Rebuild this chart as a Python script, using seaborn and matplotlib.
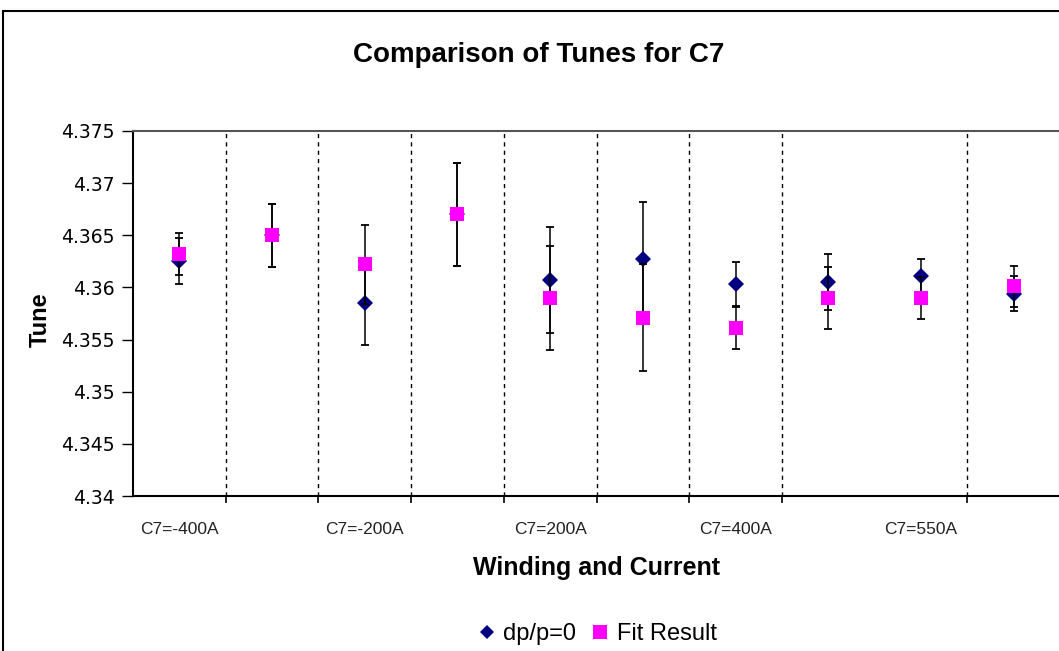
import numpy as np
import pandas as pd
import matplotlib
matplotlib.use("Agg")
import matplotlib.pyplot as plt
import seaborn as sns
from matplotlib.patches import Rectangle
from matplotlib.lines import Line2D

# ---- data ----
positions = list(range(10))
label_positions = [0, 2, 4, 6, 8]
tick_labels = ["C7=-400A", "C7=-200A", "C7=200A", "C7=400A", "C7=550A"]
divider_positions = [0.5, 1.5, 2.5, 3.5, 4.5, 5.5, 6.5, 8.5]

dp_vals = [4.3625, 4.3650, 4.3585, 4.3670, 4.3607, 4.3627, 4.3603, 4.3605, 4.3611, 4.3594]
dp_errs = [0.0022, 0.0030, 0.0040, 0.0049, 0.0051, 0.0055, 0.0021, 0.0027, 0.0016, 0.0017]
fit_vals = [4.3632, 4.3650, 4.3622, 4.3670, 4.3590, 4.3571, 4.3561, 4.3590, 4.3590, 4.3601]
fit_errs = [0.0020, 0.0030, 0.0038, 0.0049, 0.0050, 0.0051, 0.0020, 0.0030, 0.0020, 0.0020]

y_ticks = [4.34, 4.345, 4.35, 4.355, 4.36, 4.365, 4.37, 4.375]
y_tick_labels = ["4.34", "4.345", "4.35", "4.355", "4.36", "4.365", "4.37", "4.375"]

series_names = ["dp/p=0", "Fit Result"]
colors = ["#000080", "#FF00FF"]

df = pd.DataFrame({
    "pos": positions * 2,
    "tune": dp_vals + fit_vals,
    "err": dp_errs + fit_errs,
    "series": [series_names[0]] * 10 + [series_names[1]] * 10,
})

sns.set_theme(style="white")
plt.rcParams["font.family"] = ["Liberation Sans", "DejaVu Sans"]
plt.rcParams["text.color"] = "black"
plt.rcParams["axes.labelcolor"] = "black"
plt.rcParams["xtick.color"] = "black"
plt.rcParams["ytick.color"] = "black"

W, H = 1059, 651
fig = plt.figure(figsize=(W / 100, H / 100), dpi=100)
ax = fig.add_axes([133 / W, 1 - 496 / H, 927 / W, 365 / H])

# outer chart border
fig.patches.append(Rectangle((3 / W, -0.2), 2.0, 1.2 - 10.5 / H, transform=fig.transFigure,
                             fill=False, edgecolor="black", linewidth=1.5, zorder=0))

# dashed dividers
for xd in divider_positions:
    ax.axvline(xd, color="black", linestyle=(0, (3, 3)), linewidth=1.0, zorder=1)

markers = {"dp/p=0": "D", "Fit Result": "s"}
sizes = {"dp/p=0": 8.6, "Fit Result": 10}
for i, name in enumerate(series_names):
    sub = df[df["series"] == name]
    ax.errorbar(sub["pos"], sub["tune"], yerr=sub["err"], fmt="none", ecolor="black",
                elinewidth=1.1, capsize=3.2, capthick=1.3, zorder=2 + 2 * i)
    sns.lineplot(data=sub, x="pos", y="tune", ax=ax, color=colors[i], marker=markers[name],
                 markersize=sizes[name], markeredgewidth=0, linestyle="none",
                 legend=False, zorder=3 + 2 * i, estimator=None, errorbar=None)

ax.set_xlim(-0.5, 9.5)
ax.set_ylim(4.34, 4.375)
ax.set_yticks(y_ticks)
ax.set_yticklabels(y_tick_labels, fontsize=13.5, family="DejaVu Sans")
ax.set_xticks(label_positions)
ax.set_xticklabels(tick_labels, fontsize=12.5, family=["Liberation Sans Narrow", "Liberation Sans"])
ax.set_xticks(divider_positions, minor=True)
ax.tick_params(axis="x", which="major", length=0, pad=19, colors="#222222")
ax.tick_params(axis="x", which="minor", length=5, width=1.2, direction="out", color="black", bottom=True)
ax.tick_params(axis="y", which="major", length=8, width=1.0, direction="out", color="black",
               left=True, pad=5)

for s in ["left", "bottom"]:
    ax.spines[s].set_color("black")
    ax.spines[s].set_linewidth(1.5)
for s in ["top", "right"]:
    ax.spines[s].set_color("#555555")
    ax.spines[s].set_linewidth(1.5)
ax.grid(False)

ax.set_xlabel("Winding and Current", fontsize=18, fontweight="bold")
ax.xaxis.label.set_va("center")
ax.xaxis.set_label_coords(0.5, (496 - 568) / 365)
ax.set_ylabel("Tune", fontsize=17, fontweight="bold")
ax.yaxis.label.set_va("center")
ax.yaxis.set_label_coords((40 - 133) / 927, (496 - 320) / 365)

fig.text(539 / W, 1 - 55 / H, "Comparison of Tunes for C7", ha="center", va="center",
         fontsize=20, fontweight="bold")

handles = [
    Line2D([], [], color=colors[0], marker="D", markersize=7.5, markeredgewidth=0, linestyle="none"),
    Line2D([], [], color=colors[1], marker="s", markersize=10, markeredgewidth=0, linestyle="none"),
]
fig.legend(handles, series_names, loc="center", bbox_to_anchor=(597 / W, 1 - 634 / H), ncol=2,
           frameon=False, fontsize=17, handlelength=0.8, handletextpad=0.3, columnspacing=0.6)

fig.savefig("out.png", dpi=100)
